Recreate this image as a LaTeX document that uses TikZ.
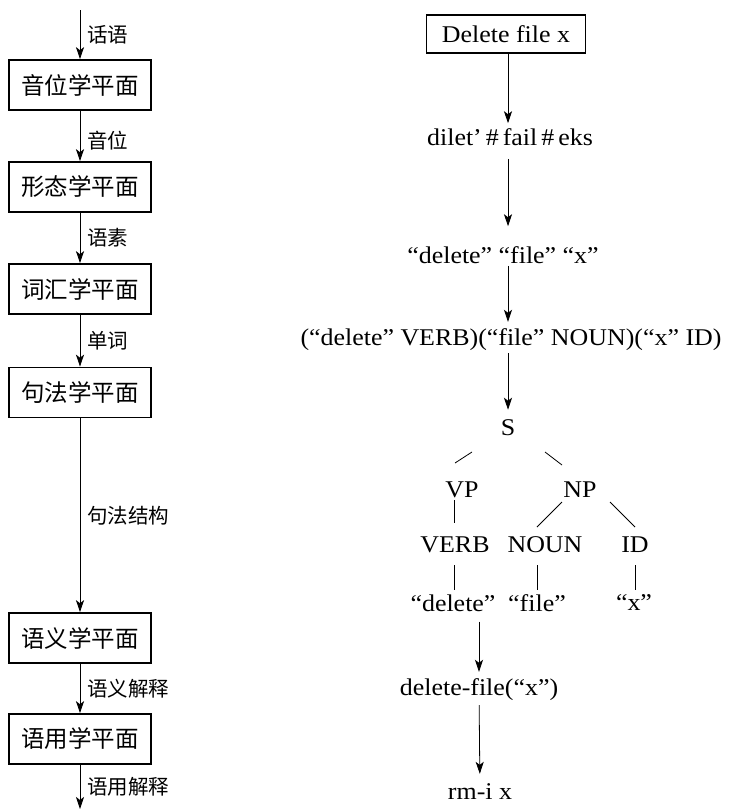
\documentclass[tikz,border=0pt]{standalone}
\usepackage{fontspec}
\setmainfont{Liberation Serif}[FakeStretch=1.08]
\newfontfamily\cjk{Noto Sans CJK SC}
\usetikzlibrary{arrows.meta}
\usetikzlibrary{calc}
\usetikzlibrary{positioning}

\tikzset{
  plane/.style={draw,line width=1.6pt,font=\cjk\fontsize{23.5}{23.5}\selectfont,minimum width=142pt,minimum height=50pt,inner sep=0pt},
  lbl/.style={font=\cjk\fontsize{20.5}{20.5}\selectfont,anchor=west,inner sep=7pt},
  txt/.style={font=\fontsize{24}{24}\selectfont,inner sep=2pt},
  flow/.style={line width=0.8pt,-{Stealth[length=12pt,width=8pt,inset=3pt]}},
  branch/.style={line width=0.8pt}
}

\begin{document}
\begin{tikzpicture}[x=1pt,y=-1pt]
\useasboundingbox (0,0) rectangle (731,809);

% left: the planes of language
\coordinate (in) at (80,10);
\node[plane] (pho) at (80,85) {音位学平面};
\node[plane] (mor) at (80,187) {形态学平面};
\node[plane] (lex) at (80,289) {词汇学平面};
\node[plane] (syn) at (80,392.5) {句法学平面};
\node[plane] (smn) at (80,638) {语义学平面};
\node[plane] (prg) at (80,739) {语用学平面};
\coordinate (out) at (80,809);

\draw[flow] (in) -- node[lbl]{话语} (pho);
\draw[flow] (pho) -- node[lbl,pos=.6]{音位} (mor);
\draw[flow] (mor) -- node[lbl]{语素} (lex);
\draw[flow] (lex) -- node[lbl]{单词} (syn);
\draw[flow] (syn) -- node[lbl]{句法结构} (smn);
\draw[flow] (smn) -- node[lbl]{语义解释} (prg);
\draw[flow] (prg) -- node[lbl]{语用解释} (out);

% right: the example command
\node[draw,line width=1.6pt,txt,minimum width=159pt,minimum height=38pt] (cmd) at (506,34) {Delete file x};
\node[txt] (phon) at (510,137) {dilet'\,\#\,fail\,\#\,eks};
\node[txt] (toks) at (503,255) {“delete” “file” “x”};
\node[txt] (tags) at (511,340) {(“delete” VERB)(“file” NOUN)(“x” ID)};
\node[txt] (S) at (508,428) {S};
\node[txt] (VP) at (462,490) {VP};
\node[txt] (NP) at (580,490) {NP};
\node[txt] (VERB) at (455,545) {VERB};
\node[txt] (NOUN) at (545,545) {NOUN};
\node[txt] (ID) at (635,545) {ID};
\node[txt] (ldel) at (453,603) {“delete”};
\node[txt] (lfile) at (537,603) {“file”};
\node[txt] (lx) at (634,603) {“x”};
\node[txt] (call) at (479,690) {delete-file(“x”)};
\node[txt] (shell) at (480,792) {rm-i x};

\draw[flow,shorten >=3pt] (S |- cmd.south) -- (S |- phon.north);
\draw[flow,shorten <=11pt,shorten >=18pt] (S |- phon.south) -- (S |- toks.north);
\draw[flow,shorten >=5pt] (S |- toks.south) -- (S |- tags.north);
\draw[flow,shorten >=8pt] (S |- tags.south) -- (S);

% parse tree
\draw[branch] ($(S)+(-36,24)$) -- ($(VP)+(-7,-27)$);
\draw[branch] ($(S)+(37,24)$) -- ($(NP)+(-18,-25)$);
\draw[branch] ($(VP)+(-8,10)$) -- ($(VERB)+(-1,-22)$);
\draw[branch] ($(NP)+(-18,12)$) -- ($(NOUN)+(-8,-18)$);
\draw[branch] ($(NP)+(30,12)$) -- ($(ID)+(0,-18)$);
\draw[branch] ($(VERB)+(-1,20)$) -- ($(ldel)+(1,-13)$);
\draw[branch] ($(NOUN)+(-8,20)$) -- ($(lfile)+(0,-13)$);
\draw[branch] ($(ID)+(0,20)$) -- ($(lx)+(1,-13)$);

\draw[flow,shorten <=8pt,shorten >=5pt] (call |- ldel.south) -- (call);
\draw[flow,shorten <=2pt,shorten >=8pt] (call) -- (shell);
\end{tikzpicture}
\end{document}
